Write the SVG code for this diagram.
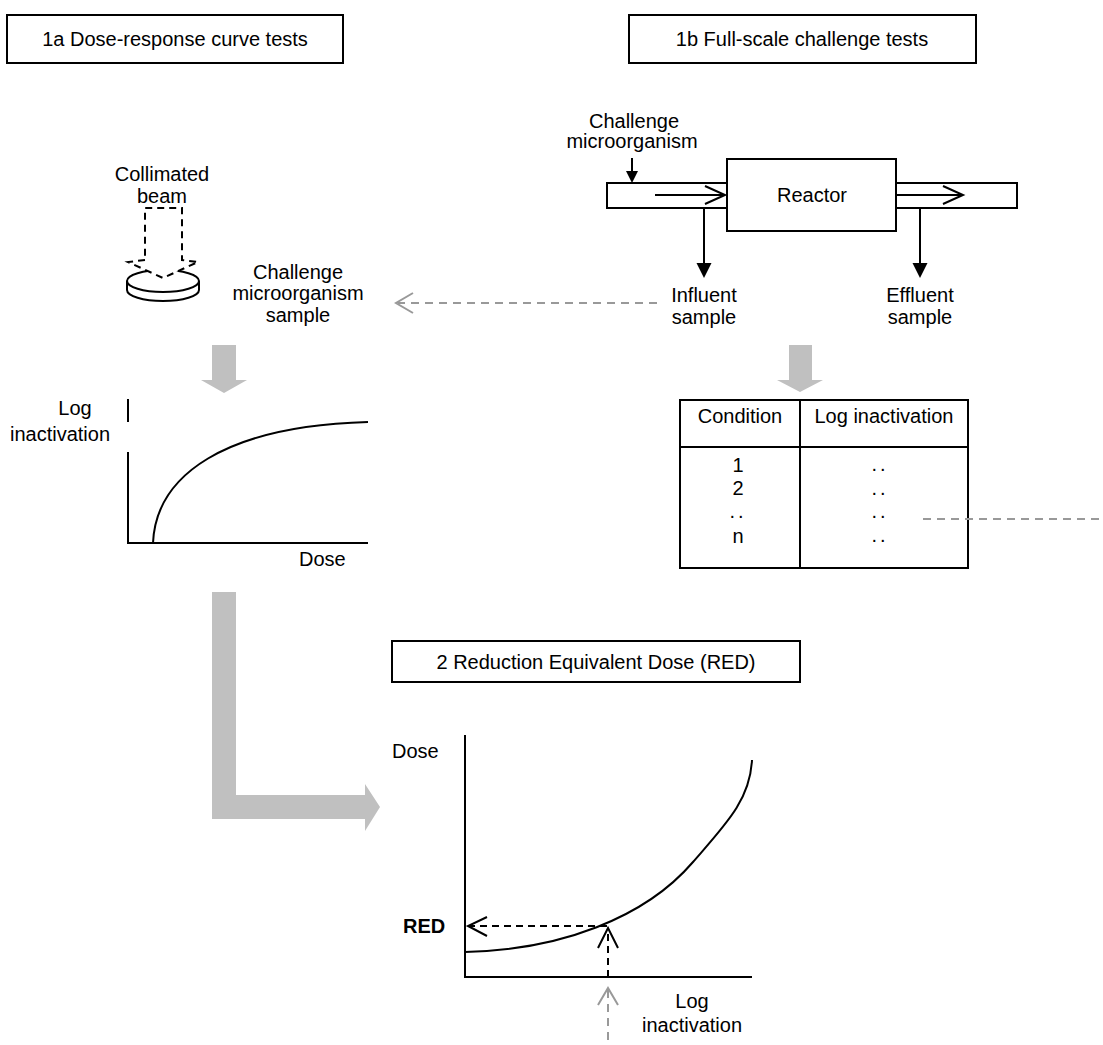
<svg xmlns="http://www.w3.org/2000/svg" width="1103" height="1045" viewBox="0 0 1103 1045">
<defs>
<style>
text{font-family:"Liberation Sans",Arial,sans-serif;font-size:20px;fill:#000}
.c{text-anchor:middle}
.box{fill:#fff;stroke:#000;stroke-width:2}
.ln{fill:none;stroke:#000;stroke-width:2}
.dash{fill:none;stroke:#000;stroke-width:2;stroke-dasharray:7 5}
.gdash{fill:none;stroke:#999;stroke-width:2;stroke-dasharray:8 6}
.gchev{fill:none;stroke:#999;stroke-width:2}
.big{fill:#c0c0c0;stroke:none}
</style>
</defs>
<rect width="1103" height="1045" fill="#fff"/>

<g id="title-1a"><rect class="box" x="7" y="15" width="336" height="48"/><text class="c" x="175" y="46">1a Dose-response curve tests</text></g>
<g id="title-1b"><rect class="box" x="629" y="15" width="347" height="48"/><text class="c" x="802" y="46">1b Full-scale challenge tests</text></g>

<g id="beam">
<text class="c" x="162" y="181">Collimated</text>
<text class="c" x="162" y="203">beam</text>
</g>
<g id="disk">
<path class="ln" d="M127,281 L127,290 A36,11 0 0 0 199,290 L199,281" fill="#fff"/>
<ellipse class="ln" cx="163" cy="281" rx="36" ry="11" fill="#fff"/>
</g>
<g id="beam-arrow"><path class="dash" style="fill:#fff" d="M145,260 L128,262 L163,278 L198,262 L182,260 L182,208 L145,208 Z"/></g>

<g id="sample-label">
<text class="c" x="298" y="279">Challenge</text>
<text class="c" x="298" y="300">microorganism</text>
<text class="c" x="298" y="322">sample</text>
</g>

<g id="reactor-setup">
<text class="c" x="634" y="128">Challenge</text>
<text class="c" x="632" y="148">microorganism</text>
<rect class="box" x="607" y="183" width="410" height="25"/>
<rect class="box" x="727" y="159" width="169" height="72"/>
<text class="c" x="812" y="202">Reactor</text>
<text class="c" x="704" y="302">Influent</text>
<text class="c" x="704" y="324">sample</text>
<text class="c" x="920" y="302">Effluent</text>
<text class="c" x="920" y="324">sample</text>
</g>

<g id="chart-1a">
<path class="ln" d="M128,399 L128,422 M128,452 L128,543 L368,543"/>
<path class="ln" d="M153,543 C156,475 225,426 368,422"/>
<text class="c" x="75" y="415">Log</text>
<text x="10" y="441">inactivation</text>
<text x="299" y="566">Dose</text>
</g>

<g id="table">
<rect class="box" x="680" y="400" width="288" height="168"/>
<path class="ln" d="M800,400 L800,568 M680,447 L968,447"/>
<text class="c" x="740" y="423">Condition</text>
<text class="c" x="884" y="423">Log inactivation</text>
<text class="c" x="738" y="472">1</text>
<text class="c" x="738" y="495">2</text>
<text class="c" x="738" y="518" style="letter-spacing:3px">..</text>
<text class="c" x="738" y="543">n</text>
<text class="c" x="880" y="471" style="letter-spacing:3px">..</text>
<text class="c" x="880" y="495" style="letter-spacing:3px">..</text>
<text class="c" x="880" y="518" style="letter-spacing:3px">..</text>
<text class="c" x="880" y="542" style="letter-spacing:3px">..</text>
</g>

<g id="title-2"><rect class="box" x="392" y="641" width="408" height="41"/><text class="c" x="596" y="669">2 Reduction Equivalent Dose (RED)</text></g>

<g id="chart-2">
<path class="ln" d="M465,735 L465,977 L752,977"/>
<path class="ln" d="M465,952 C560,950 645,918 693,862 C726,824 750,800 752,760"/>
<text x="392" y="758">Dose</text>
<text x="403" y="933" font-weight="bold">RED</text>
<text class="c" x="692" y="1008">Log</text>
<text class="c" x="692" y="1032">inactivation</text>
</g>

<g id="connectors">
<path class="ln" d="M632,158 L632,172"/>
<polygon points="626,171 638,171 632,183" fill="#000"/>
<path class="ln" d="M655,195 L725,195 M705,186 L725,195 L705,204"/>
<path class="ln" d="M896,195 L963,195 M943,186 L963,195 L943,204"/>
<path class="ln" d="M704,208 L704,265"/>
<polygon points="696.5,263 711.5,263 704,278" fill="#000"/>
<path class="ln" d="M920,208 L920,265"/>
<polygon points="912.5,263 927.5,263 920,278" fill="#000"/>
<path class="gdash" d="M657,303 L398,303"/>
<path class="gchev" d="M413,293 L396,303 L413,313"/>
<polygon class="big" points="212,345 236,345 236,380 247,380 224,393 201,380 212,380"/>
<polygon class="big" points="789,345 812,345 812,380 823,380 800,392 777,380 789,380"/>
<polygon class="big" points="212,592 236,592 236,795 365,795 365,784 380,807 365,831 365,819 212,819"/>
<path class="gdash" d="M923,519 L1103,519"/>
<path class="dash" d="M607,926 L470,926"/>
<path class="ln" d="M487,917 L468,926 L487,936"/>
<path class="dash" d="M608,977 L608,930"/>
<path class="ln" d="M598,948 L608,928 L618,948"/>
<path class="gdash" d="M608,990 L608,1040"/>
<path class="gchev" d="M598,1005 L608,988 L618,1005"/>
</g>
</svg>
